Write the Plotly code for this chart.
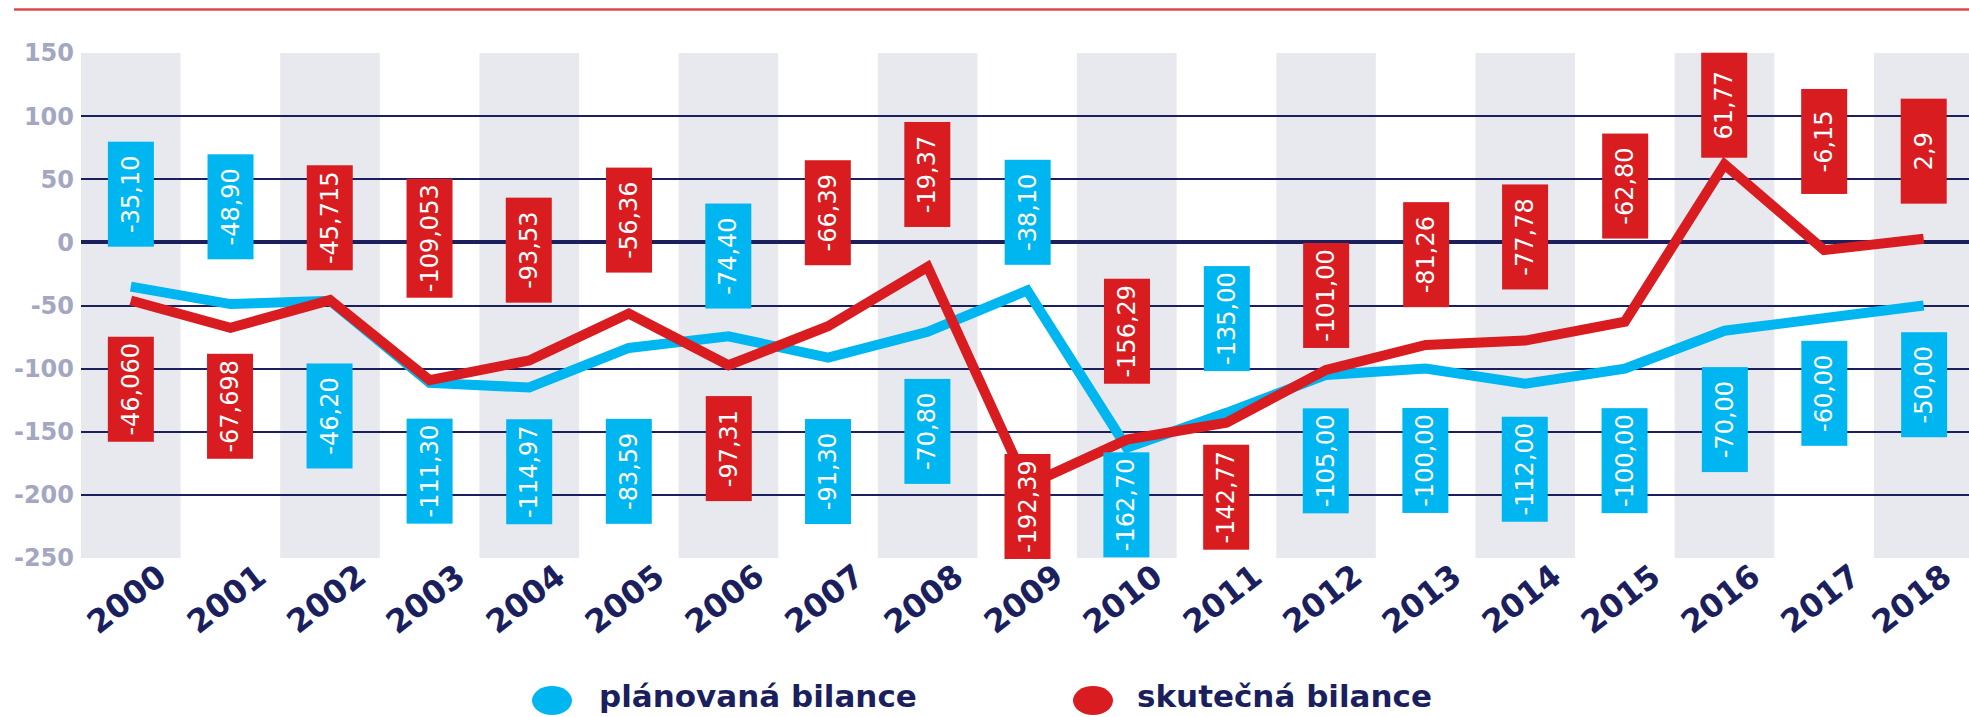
import plotly.graph_objects as go

# ---------------- data ----------------
years = [str(y) for y in range(2000, 2019)]
planned = [-35.10, -48.90, -46.20, -111.30, -114.97, -83.59, -74.40, -91.30, -70.80, -38.10,
           -162.70, -135.00, -105.00, -100.00, -112.00, -100.00, -70.00, -60.00, -50.00]
actual = [-46.060, -67.698, -45.715, -109.053, -93.53, -56.36, -97.31, -66.39, -19.37, -192.39,
          -156.29, -142.77, -101.00, -81.26, -77.78, -62.80, 61.77, -6.15, 2.9]
planned_text = ["-35,10", "-48,90", "-46,20", "-111,30", "-114,97", "-83,59", "-74,40", "-91,30",
                "-70,80", "-38,10", "-162,70", "-135,00", "-105,00", "-100,00", "-112,00",
                "-100,00", "-70,00", "-60,00", "-50,00"]
actual_text = ["-46,060", "-67,698", "-45,715", "-109,053", "-93,53", "-56,36", "-97,31", "-66,39",
               "-19,37", "-192,39", "-156,29", "-142,77", "-101,00", "-81,26", "-77,78", "-62,80",
               "61,77", "-6,15", "2,9"]
series_names = ["plánovaná bilance", "skutečná bilance"]
y_ticks = [150, 100, 50, 0, -50, -100, -150, -200, -250]

# label box centre positions (layout, in axis units)
planned_label_pos = [38, 28.5, -137.5, -181.5, -181.5, -181.5, -10.5, -181.5, -150, 24,
                     -208, -60, -173, -173, -179.5, -173, -140, -119.5, -113]
actual_label_pos = [-116.5, -129.5, 19.5, 3, -6, 17.5, -163, 23.5, 53.5, -209,
                    -70.5, -201.5, -42, -10, 4.5, 44.5, 109, 80, 72]

# ---------------- style ----------------
BLUE = "#00b6f1"
RED = "#d81c20"
NAVY = "#1b1f5e"
BAND = "#e8e8ef"
TICK_GRAY = "#a4a7c1"
FONT = "DejaVu Sans"

W, H = 1969, 717
L, R, T, B = 81, 0, 53, 159
PH = H - T - B
PW = W - L - R

fig = go.Figure()
fig.add_trace(go.Scatter(x=years, y=planned, mode="lines", name=series_names[0],
                         line=dict(color=BLUE, width=10), showlegend=False, hoverinfo="skip"))
fig.add_trace(go.Scatter(x=years, y=actual, mode="lines", name=series_names[1],
                         line=dict(color=RED, width=10), showlegend=False, hoverinfo="skip"))

shapes = []
annotations = []

# alternating background bands
for i in range(len(years)):
    if i % 2 == 0:
        shapes.append(dict(type="rect", xref="x", yref="paper", x0=i - 0.5, x1=i + 0.5,
                           y0=0, y1=1, fillcolor=BAND, line=dict(width=0), layer="below"))

def text_len(s, size):
    w = {"-": 0.36, ",": 0.32}
    return sum(w.get(c, 0.636) for c in s) * size

LABEL_SIZE = 24
for i in range(len(years)):
    for txt, pos, col in ((planned_text[i], planned_label_pos[i], BLUE),
                          (actual_text[i], actual_label_pos[i], RED)):
        bw = max(104, text_len(txt, LABEL_SIZE) + 10)
        annotations.append(dict(x=i, y=pos, xref="x", yref="y", text=txt, showarrow=False,
                                textangle=-90, width=bw, height=45, bgcolor=col,
                                borderpad=0, align="center", valign="middle",
                                xanchor="center", yanchor="middle",
                                font=dict(family=FONT, size=LABEL_SIZE, color="white")))

# year labels
for i, yr in enumerate(years):
    xs = -4 if i < len(years) - 1 else -12
    annotations.append(dict(x=i, y=0, xref="x", yref="paper", text=yr, showarrow=False,
                            textangle=-38, xanchor="center", yanchor="middle",
                            xshift=xs, yshift=-41,
                            font=dict(family=FONT, size=32, color=NAVY, weight="bold")))

# top red rule
shapes.append(dict(type="line", xref="paper", yref="paper",
                   x0=(14 - L) / PW, x1=1.0,
                   y0=(H - B - 9.5) / PH, y1=(H - B - 9.5) / PH,
                   line=dict(color="#e0474c", width=2.5)))

# manual legend
legend_items = [(series_names[0], BLUE, 552, 597), (series_names[1], RED, 1093, 1135)]
for name, col, cx, tx in legend_items:
    shapes.append(dict(type="circle", xref="paper", yref="paper",
                       x0=(cx - 20 - L) / PW, x1=(cx + 20 - L) / PW,
                       y0=(H - B - 715) / PH, y1=(H - B - 686) / PH,
                       fillcolor=col, line=dict(width=0)))
    annotations.append(dict(x=(tx - L) / PW, y=(H - B - 716) / PH, xref="paper", yref="paper",
                            text=name, showarrow=False, xanchor="left", yanchor="bottom",
                            font=dict(family=FONT, size=31, color=NAVY, weight="bold")))

fig.update_layout(
    width=W, height=H,
    margin=dict(l=L, r=R, t=T, b=B, pad=0),
    paper_bgcolor="white", plot_bgcolor="white",
    shapes=shapes, annotations=annotations,
    showlegend=False,
    xaxis=dict(type="category", range=[-0.5, 18.455], showgrid=False, showticklabels=False,
               zeroline=False, showline=False, ticks=""),
    yaxis=dict(range=[-250, 150], tickvals=y_ticks, ticktext=[str(v) for v in y_ticks],
               showgrid=True, gridcolor=NAVY, gridwidth=2,
               zeroline=True, zerolinecolor=NAVY, zerolinewidth=4,
               showline=False, ticks="", ticklabelstandoff=6,
               tickfont=dict(family=FONT, size=24, color=TICK_GRAY, weight="bold")),
)

fig.write_html("out.html", config={"displayModeBar": False},
               post_script="document.body.style.margin='0px';document.body.style.overflow='hidden';")
